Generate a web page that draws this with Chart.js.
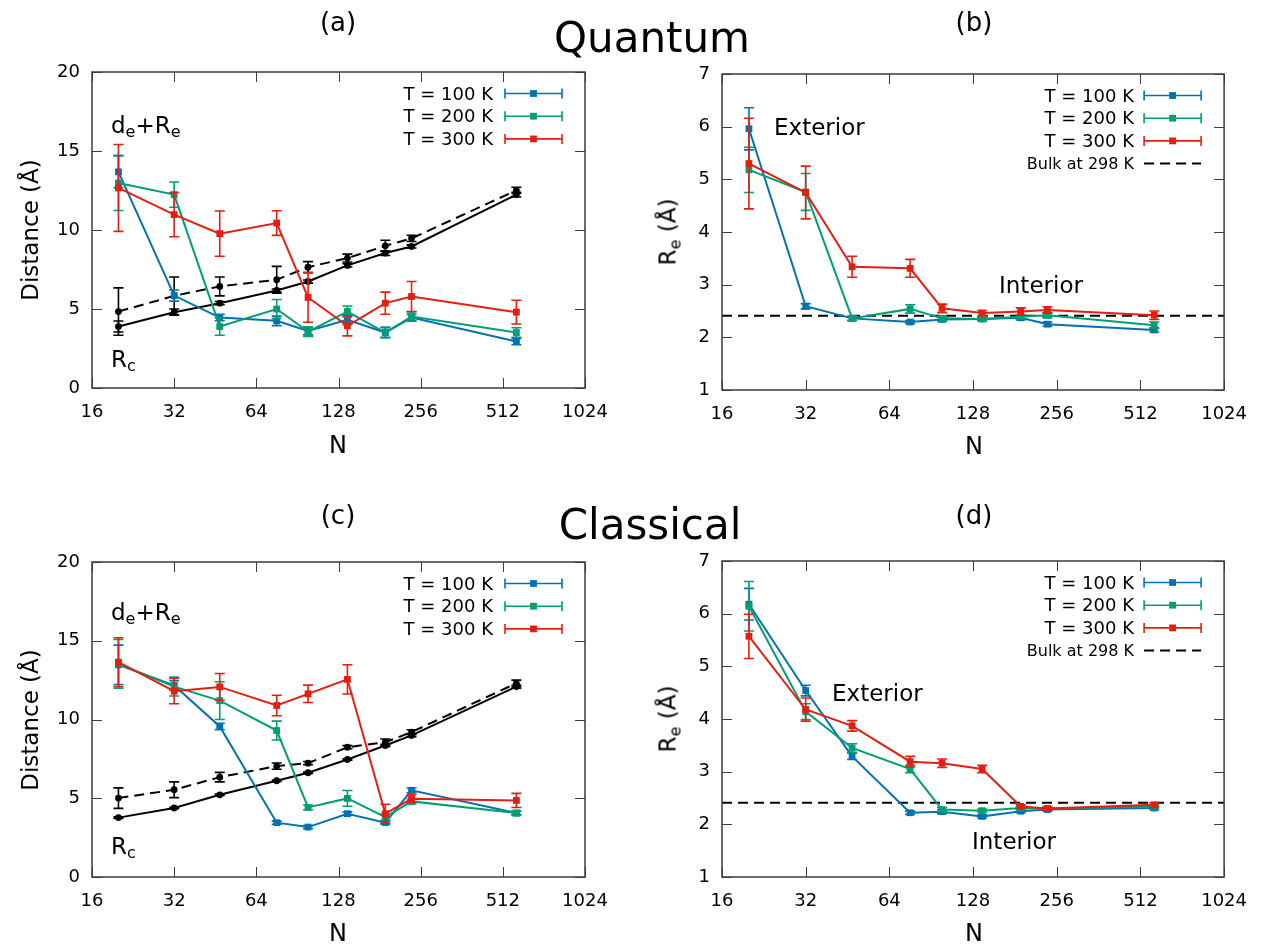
<!DOCTYPE html>
<html>
<head>
<meta charset="utf-8">
<script src="https://cdn.jsdelivr.net/npm/chart.js@4/dist/chart.umd.min.js"></script>
<style>
body { margin: 0; background: #fff; }
#page { position: relative; width: 1261px; height: 944px; overflow: hidden; font-family: "DejaVu Sans", sans-serif; color: #000; }
#page canvas { position: absolute; }
.txt { position: absolute; white-space: nowrap; line-height: 1; }
.txt sub { font-size: 70%; vertical-align: -0.3em; line-height: 0; }
</style>
</head>
<body>
<div id="page">
  <canvas id="chartA" width="630" height="472" style="left:0;top:0"></canvas>
  <canvas id="chartB" width="631" height="472" style="left:630px;top:0"></canvas>
  <canvas id="chartC" width="630" height="472" style="left:0;top:472px"></canvas>
  <canvas id="chartD" width="631" height="472" style="left:630px;top:472px"></canvas>
</div>
<script>
// cluster sizes and ticks
const sizesN = [20, 32, 47, 76, 99, 138, 190, 237, 574];
const xTicks = [16, 32, 64, 128, 256, 512, 1024];
const distTicks = [0, 5, 10, 15, 20];
const reTicks = [1, 2, 3, 4, 5, 6, 7];
const tempLabels = ['T = 100 K', 'T = 200 K', 'T = 300 K'];
const bulkLabel = 'Bulk at 298 K';
const bulkRe = 2.41;

// (a) quantum, distances
const qDist100 = [13.68, 5.85, 4.46, 4.25, 3.61, 4.31, 3.51, 4.46, 2.94];
const qDist100Err = [1.0, 0.35, 0.2, 0.3, 0.25, 0.3, 0.3, 0.2, 0.2];
const qDist200 = [12.98, 12.24, 3.89, 5.0, 3.57, 4.84, 3.51, 4.52, 3.51];
const qDist200Err = [1.75, 0.8, 0.55, 0.6, 0.3, 0.35, 0.35, 0.3, 0.3];
const qDist300 = [12.66, 10.97, 9.77, 10.44, 5.73, 3.93, 5.37, 5.79, 4.80];
const qDist300Err = [2.75, 1.4, 1.43, 0.78, 1.57, 0.63, 0.7, 0.95, 0.75];
const qRc = [3.89, 4.8, 5.37, 6.17, 6.74, 7.76, 8.54, 8.96, 12.24];
const qRcErr = [0.35, 0.2, 0.1, 0.1, 0.1, 0.1, 0.15, 0.1, 0.15];
const qDeRe = [4.84, 5.83, 6.43, 6.85, 7.65, 8.22, 9.0, 9.47, 12.51];
const qDeReErr = [1.5, 1.2, 0.6, 0.85, 0.35, 0.25, 0.35, 0.2, 0.2];

// (b) quantum, Re
const qRe100 = [5.96, 2.59, 2.36, 2.29, 2.34, 2.35, 2.37, 2.25, 2.14];
const qRe100Err = [0.4, 0.05, 0.04, 0.03, 0.04, 0.03, 0.04, 0.04, 0.04];
const qRe200 = [5.18, 4.76, 2.36, 2.54, 2.36, 2.35, 2.39, 2.42, 2.23];
const qRe200Err = [0.43, 0.35, 0.04, 0.08, 0.04, 0.04, 0.04, 0.05, 0.06];
const qRe300 = [5.30, 4.75, 3.34, 3.31, 2.55, 2.46, 2.49, 2.52, 2.42];
const qRe300Err = [0.86, 0.5, 0.2, 0.17, 0.08, 0.05, 0.07, 0.06, 0.08];

// (c) classical, distances
const cDist100 = [13.47, 12.16, 9.56, 3.45, 3.17, 4.02, 3.45, 5.5, 4.06];
const cDist100Err = [1.25, 0.3, 0.2, 0.1, 0.1, 0.1, 0.1, 0.15, 0.1];
const cDist200 = [13.53, 12.09, 11.2, 9.3, 4.42, 4.99, 3.8, 4.8, 4.06];
const cDist200Err = [1.55, 0.6, 1.2, 0.6, 0.15, 0.5, 0.2, 0.15, 0.15];
const cDist300 = [13.64, 11.8, 12.07, 10.89, 11.63, 12.55, 4.02, 4.97, 4.86];
const cDist300Err = [1.55, 0.8, 0.85, 0.65, 0.55, 0.93, 0.6, 0.25, 0.45];
const cRc = [3.77, 4.38, 5.22, 6.11, 6.62, 7.46, 8.35, 8.99, 12.09];
const cRcErr = [0.05, 0.05, 0.05, 0.05, 0.05, 0.05, 0.08, 0.08, 0.1];
const cDeRe = [5.01, 5.54, 6.34, 7.04, 7.23, 8.24, 8.56, 9.2, 12.3];
const cDeReErr = [0.65, 0.5, 0.3, 0.2, 0.1, 0.1, 0.2, 0.15, 0.2];

// (d) classical, Re
const cRe100 = [6.18, 4.54, 3.29, 2.22, 2.24, 2.15, 2.25, 2.28, 2.31];
const cRe100Err = [0.3, 0.1, 0.06, 0.03, 0.04, 0.03, 0.03, 0.03, 0.03];
const cRe200 = [6.14, 4.14, 3.45, 3.05, 2.28, 2.26, 2.31, 2.30, 2.34];
const cRe200Err = [0.47, 0.15, 0.08, 0.07, 0.04, 0.03, 0.03, 0.03, 0.03];
const cRe300 = [5.57, 4.18, 3.87, 3.19, 3.16, 3.05, 2.34, 2.30, 2.37];
const cRe300Err = [0.42, 0.22, 0.1, 0.1, 0.08, 0.07, 0.03, 0.03, 0.04];

const BLUE = '#0072b2', GREEN = '#009e73', RED = '#e51e10', BLACK = '#000000';

Chart.defaults.font.family = "'DejaVu Sans', sans-serif";
Chart.defaults.color = '#000';

function pts(vals) {
    return sizesN.map((n, i) => ({x: n, y: vals[i]}));
}

function series(label, vals, errs, color, order, extra) {
    return Object.assign({
        label: label,
        data: pts(vals),
        errors: errs,
        borderColor: color,
        backgroundColor: color,
        borderWidth: 2,
        pointStyle: 'rect',
        pointRadius: 4.8,
        pointHoverRadius: 4.8,
        pointBorderWidth: 0,
        tension: 0,
        fill: false,
        order: order
    }, extra || {});
}

function blackSeries(label, vals, errs, dashed, order) {
    return series(label, vals, errs, BLACK, order, {
        pointStyle: 'circle',
        pointRadius: 3.4,
        pointHoverRadius: 3.4,
        borderDash: dashed ? [10, 6] : []
    });
}

// error bars drawn through the y scale
const errorBars = {
    id: 'errorBars',
    afterDatasetDraw(chart, args) {
        const ds = chart.data.datasets[args.index];
        if (!ds.errors) return;
        const y = chart.scales.y, ctx = chart.ctx;
        ctx.save();
        ctx.strokeStyle = ds.borderColor;
        ctx.lineWidth = 1.6;
        ctx.setLineDash([]);
        ctx.beginPath();
        args.meta.data.forEach((pt, i) => {
            const v = ds.data[i].y, e = ds.errors[i];
            const top = y.getPixelForValue(v + e), bot = y.getPixelForValue(v - e);
            ctx.moveTo(pt.x, top); ctx.lineTo(pt.x, bot);
            ctx.moveTo(pt.x - 5, top); ctx.lineTo(pt.x + 5, top);
            ctx.moveTo(pt.x - 5, bot); ctx.lineTo(pt.x + 5, bot);
        });
        ctx.stroke();
        ctx.restore();
    }
};

// gnuplot-like border with inward ticks on all sides
const frame = {
    id: 'frame',
    afterDraw(chart) {
        const a = chart.chartArea, ctx = chart.ctx;
        const x = chart.scales.x, y = chart.scales.y;
        ctx.save();
        ctx.strokeStyle = '#3c3c3c';
        ctx.lineWidth = 1.5;
        ctx.strokeRect(a.left, a.top, a.right - a.left, a.bottom - a.top);
        ctx.beginPath();
        x.ticks.forEach(t => {
            const px = Math.round(x.getPixelForValue(t.value)) + 0.5;
            ctx.moveTo(px, a.bottom); ctx.lineTo(px, a.bottom - 10);
            ctx.moveTo(px, a.top); ctx.lineTo(px, a.top + 10);
        });
        y.ticks.forEach(t => {
            const py = Math.round(y.getPixelForValue(t.value)) + 0.5;
            ctx.moveTo(a.left, py); ctx.lineTo(a.left + 10, py);
            ctx.moveTo(a.right, py); ctx.lineTo(a.right - 10, py);
        });
        ctx.lineWidth = 1;
        ctx.stroke();
        ctx.restore();
    }
};

// key samples (text is html)
const keySamples = {
    id: 'keySamples',
    afterDraw(chart, args, opts) {
        if (!opts.rows) return;
        const a = chart.chartArea, ctx = chart.ctx;
        ctx.save();
        opts.rows.forEach((row, i) => {
            const yy = a.top + 21.5 + i * 22.7;
            const x0 = a.right - 80, x1 = a.right - 23, xm = (x0 + x1) / 2;
            ctx.strokeStyle = row.color;
            ctx.fillStyle = row.color;
            ctx.lineWidth = row.dashed ? 2 : 1.6;
            ctx.setLineDash(row.dashed ? [10, 6] : []);
            ctx.beginPath();
            ctx.moveTo(x0, yy); ctx.lineTo(x1, yy);
            ctx.stroke();
            ctx.setLineDash([]);
            if (!row.dashed) {
                ctx.beginPath();
                ctx.moveTo(x0, yy - 5); ctx.lineTo(x0, yy + 5);
                ctx.moveTo(x1, yy - 5); ctx.lineTo(x1, yy + 5);
                ctx.stroke();
                ctx.fillRect(xm - 3.4, yy - 3.4, 6.8, 6.8);
            }
        });
        ctx.restore();
    }
};

function makePanel(id, datasets, yMin, yMax, yStep, pad, keyRows) {
    return new Chart(document.getElementById(id), {
        type: 'line',
        data: {datasets: datasets},
        options: {
            responsive: false,
            maintainAspectRatio: false,
            devicePixelRatio: 1,
            animation: false,
            layout: {padding: {top: pad.top, right: pad.right, left: 0, bottom: 0}},
            plugins: {legend: {display: false}, tooltip: {enabled: false}, keySamples: {rows: keyRows}},
            scales: {
                x: {
                    type: 'logarithmic',
                    min: 16,
                    max: 1024,
                    grid: {display: false, drawTicks: false},
                    border: {display: false},
                    afterBuildTicks: s => { s.ticks = xTicks.map(v => ({value: v})); },
                    afterFit: s => { s.height = pad.xh; },
                    ticks: {
                        autoSkip: false, maxRotation: 0, padding: 14,
                        font: {size: 18},
                        callback: v => String(v)
                    }
                },
                y: {
                    min: yMin,
                    max: yMax,
                    grid: {display: false, drawTicks: false},
                    border: {display: false},
                    afterFit: s => { s.width = 92; },
                    ticks: {stepSize: yStep, padding: 12, font: {size: 18}}
                }
            }
        },
        plugins: [errorBars, frame, keySamples]
    });
}

const tempRows = [{color: BLUE}, {color: GREEN}, {color: RED}];

makePanel('chartA', [
    series(tempLabels[0], qDist100, qDist100Err, BLUE, 3),
    series(tempLabels[1], qDist200, qDist200Err, GREEN, 2),
    series(tempLabels[2], qDist300, qDist300Err, RED, 1),
    blackSeries('Rc', qRc, qRcErr, false, 5),
    blackSeries('de+Re', qDeRe, qDeReErr, true, 4)
], distTicks[0], distTicks[distTicks.length - 1], 5, {top: 72, right: 45, xh: 84}, tempRows);

const bulkLine = () => ({
    label: bulkLabel,
    data: [{x: xTicks[0], y: bulkRe}, {x: xTicks[xTicks.length - 1], y: bulkRe}],
    borderColor: BLACK,
    borderWidth: 2,
    borderDash: [10, 6],
    pointRadius: 0,
    order: 6
});

makePanel('chartB', [
    series(tempLabels[0], qRe100, qRe100Err, BLUE, 3),
    series(tempLabels[1], qRe200, qRe200Err, GREEN, 2),
    series(tempLabels[2], qRe300, qRe300Err, RED, 1),
    bulkLine()
], reTicks[0], reTicks[reTicks.length - 1], 1, {top: 74, right: 35, xh: 82},
    tempRows.concat([{color: BLACK, dashed: true}]));

makePanel('chartC', [
    series(tempLabels[0], cDist100, cDist100Err, BLUE, 3),
    series(tempLabels[1], cDist200, cDist200Err, GREEN, 2),
    series(tempLabels[2], cDist300, cDist300Err, RED, 1),
    blackSeries('Rc', cRc, cRcErr, false, 5),
    blackSeries('de+Re', cDeRe, cDeReErr, true, 4)
], distTicks[0], distTicks[distTicks.length - 1], 5, {top: 90, right: 45, xh: 67}, tempRows);

makePanel('chartD', [
    series(tempLabels[0], cRe100, cRe100Err, BLUE, 3),
    series(tempLabels[1], cRe200, cRe200Err, GREEN, 2),
    series(tempLabels[2], cRe300, cRe300Err, RED, 1),
    bulkLine()
], reTicks[0], reTicks[reTicks.length - 1], 1, {top: 89, right: 35, xh: 67},
    tempRows.concat([{color: BLACK, dashed: true}]));

// text overlay
const page = document.getElementById('page');
function addText(html, x, y, size, align, rotate) {
    const d = document.createElement('div');
    d.className = 'txt';
    d.innerHTML = html;
    d.style.left = x + 'px';
    d.style.top = y + 'px';
    d.style.fontSize = size + 'px';
    const tx = align === 'right' ? '-100%' : align === 'left' ? '0' : '-50%';
    d.style.transform = 'translate(' + tx + ',-50%)' + (rotate ? ' rotate(-90deg)' : '');
    if (rotate) d.style.transformOrigin = '50% 50%';
    page.appendChild(d);
}

addText('(a)', 338, 22, 26);
addText('(b)', 974, 22, 26);
addText('Quantum', 652, 38, 42);
addText('(c)', 338, 515, 26);
addText('(d)', 974, 515, 26);
addText('Classical', 650, 525, 42);

addText('N', 338, 445, 24);
addText('N', 974, 446, 24);
addText('N', 338, 933, 24);
addText('N', 974, 933, 24);

addText('Distance (Å)', 30, 230, 23, 'center', true);
addText('Distance (Å)', 30, 720, 23, 'center', true);
addText('R<sub>e</sub> (Å)', 668, 232, 23, 'center', true);
addText('R<sub>e</sub> (Å)', 668, 719, 23, 'center', true);

addText('d<sub>e</sub>+R<sub>e</sub>', 111, 125, 23, 'left');
addText('R<sub>c</sub>', 111, 359, 23, 'left');
addText('d<sub>e</sub>+R<sub>e</sub>', 111, 612, 23, 'left');
addText('R<sub>c</sub>', 111, 846, 23, 'left');

addText('Exterior', 774, 127, 23, 'left');
addText('Interior', 999, 285, 23, 'left');
addText('Exterior', 832, 693, 23, 'left');
addText('Interior', 972, 841, 23, 'left');

[[493, 93.5], [1134, 95.5], [493, 583.5], [1134, 582.5]].forEach(p => {
    tempLabels.forEach((t, i) => addText(t, p[0], p[1] + i * 22.7, 18, 'right'));
});
addText(bulkLabel, 1134, 95.5 + 3 * 22.7, 16, 'right');
addText(bulkLabel, 1134, 582.5 + 3 * 22.7, 16, 'right');
</script>
</body>
</html>
